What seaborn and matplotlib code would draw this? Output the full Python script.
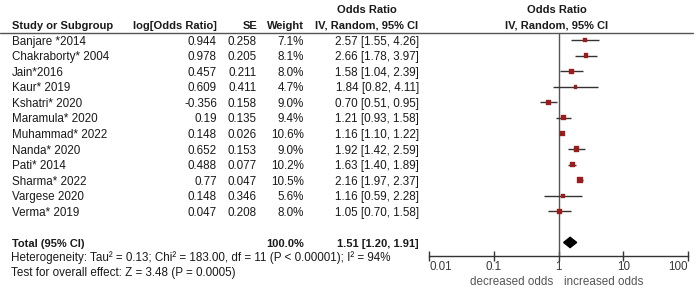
import matplotlib
matplotlib.use("Agg")
import matplotlib.pyplot as plt
import matplotlib.transforms as mtransforms
from matplotlib.lines import Line2D
import numpy as np
import pandas as pd
import seaborn as sns

sns.set_style("white")
plt.rcParams["font.family"] = ["Liberation Sans", "DejaVu Sans"]

studies = ["Banjare *2014", "Chakraborty* 2004", "Jain*2016", "Kaur* 2019", "Kshatri* 2020",
           "Maramula* 2020", "Muhammad* 2022", "Nanda* 2020", "Pati* 2014", "Sharma* 2022",
           "Vargese 2020", "Verma* 2019"]
log_or = [0.944, 0.978, 0.457, 0.609, -0.356, 0.19, 0.148, 0.652, 0.488, 0.77, 0.148, 0.047]
se = [0.258, 0.205, 0.211, 0.411, 0.158, 0.135, 0.026, 0.153, 0.077, 0.047, 0.346, 0.208]
weight = [7.1, 8.1, 8.0, 4.7, 9.0, 9.4, 10.6, 9.0, 10.2, 10.5, 5.6, 8.0]
odds = [2.57, 2.66, 1.58, 1.84, 0.70, 1.21, 1.16, 1.92, 1.63, 2.16, 1.16, 1.05]
ci_lo = [1.55, 1.78, 1.04, 0.82, 0.51, 0.93, 1.10, 1.42, 1.40, 1.97, 0.59, 0.70]
ci_hi = [4.26, 3.97, 2.39, 4.11, 0.95, 1.58, 1.22, 2.59, 1.89, 2.37, 2.28, 1.58]
total_weight = 100.0
total_or, total_lo, total_hi = 1.51, 1.20, 1.91
ticks = [0.01, 0.1, 1, 10, 100]
tick_labels = ["0.01", "0.1", "1", "10", "100"]
het_text = "Heterogeneity: Tau\u00b2 = 0.13; Chi\u00b2 = 183.00, df = 11 (P < 0.00001); I\u00b2 = 94%"
effect_text = "Test for overall effect: Z = 3.48 (P = 0.0005)"

W, H = 700, 290
TXT = "#1a1a1a"
FS = 8.4
FSB = 8
DY = 0.1  # text sits a touch below the marker centre

df = pd.DataFrame({"study": studies, "odds": odds, "weight": weight,
                   "row": np.arange(len(studies))})
total_row = len(studies) + 1

fig = plt.figure(figsize=(W / 100, H / 100), dpi=100)
# forest axis: px 429..688 horizontally, 33..256 vertically
ax = fig.add_axes([429 / W, 1 - 256 / H, (688 - 429) / W, (256 - 33) / H])
ax.set_xscale("log")
ax.set_xlim(0.01, 100)
ax.set_ylim(13.87, -0.45)

ax.axvline(1, color="#555555", lw=1, zorder=1)
ax.hlines(df["row"], ci_lo, ci_hi, color="#333333", lw=1, zorder=2)
sns.scatterplot(data=df, x="odds", y="row", size="weight", sizes=(7, 16), marker="s",
                color="#9b1c1c", edgecolor="#9b1c1c", legend=False, ax=ax, zorder=3)

# pooled diamond
h = 0.33
ax.fill([total_lo, total_or, total_hi, total_or],
        [total_row, total_row - h, total_row, total_row + h], color="black", zorder=3)

for s in ["left", "right", "top"]:
    ax.spines[s].set_visible(False)
ax.spines["bottom"].set_color("#333333")
ax.spines["bottom"].set_linewidth(1)
ax.set_yticks([])
ax.set_xticks(ticks)
ax.set_xticklabels(tick_labels)
ax.xaxis.set_minor_locator(matplotlib.ticker.NullLocator())
ax.tick_params(axis="x", direction="inout", length=7, width=1, color="#333333",
               labelsize=FS, labelcolor="#3a3a3a", pad=0, bottom=True)
lbls = ax.get_xticklabels()
lbls[0].set_ha("left")
lbls[-1].set_ha("right")
ax.set_xlabel("")
ax.set_ylabel("")
ax.text(0.82, 15.55, "decreased odds", ha="right", va="center", fontsize=FS, color="#555555")
ax.text(1.2, 15.55, "increased odds", ha="left", va="center", fontsize=FS, color="#555555")

# table text, x in figure pixels, y in forest rows
tr = mtransforms.blended_transform_factory(fig.transFigure, ax.transData)


def put(xpx, row, s, ha="left", bold=False, color=TXT):
    ax.text(xpx / W, row + DY, s, transform=tr, ha=ha, va="center",
            fontsize=FSB if bold else FS,
            fontweight="bold" if bold else "normal", color=color, clip_on=False)


put(367, -2.0, "Odds Ratio", ha="center", bold=True)
put(557, -2.0, "Odds Ratio", ha="center", bold=True)
put(12, -1.0, "Study or Subgroup", bold=True)
put(217, -1.0, "log[Odds Ratio]", ha="right", bold=True)
put(257, -1.0, "SE", ha="right", bold=True)
put(304, -1.0, "Weight", ha="right", bold=True)
put(367, -1.0, "IV, Random, 95% CI", ha="center", bold=True)
put(557, -1.0, "IV, Random, 95% CI", ha="center", bold=True)

for i, name in enumerate(studies):
    put(12, i, name)
    put(217, i, str(log_or[i]), ha="right")
    put(257, i, f"{se[i]:.3f}", ha="right")
    put(304, i, f"{weight[i]:.1f}%", ha="right")
    put(419, i, f"{odds[i]:.2f} [{ci_lo[i]:.2f}, {ci_hi[i]:.2f}]", ha="right")

put(12, total_row, "Total (95% CI)", bold=True)
put(304, total_row, f"{total_weight:.1f}%", ha="right", bold=True)
put(419, total_row, f"{total_or:.2f} [{total_lo:.2f}, {total_hi:.2f}]", ha="right", bold=True)
put(11, 13.9, het_text)
put(11, 14.86, effect_text)

# header rule across the whole table
fig.add_artist(Line2D([0, 693 / W], [1 - 33.3 / H, 1 - 33.3 / H], transform=fig.transFigure,
                      color="#555555", lw=1))

fig.savefig("out.png", dpi=100)
